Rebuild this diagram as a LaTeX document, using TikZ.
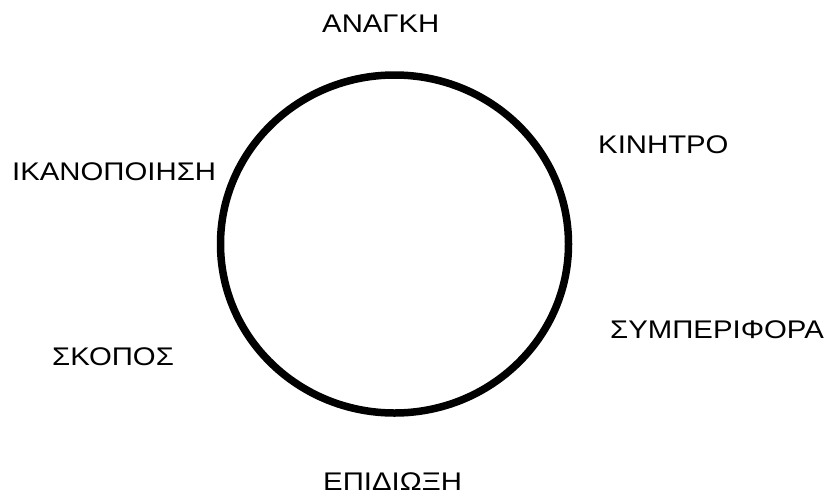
\documentclass[tikz,border=0pt]{standalone}
\usepackage{fontspec}
\setmainfont{Liberation Sans}[FakeStretch=1.15]
\begin{document}
\begin{tikzpicture}[x=1pt,y=-1pt,
  lbl/.style={inner sep=0pt,anchor=base west,font=\fontsize{25.5}{30}\selectfont},
  ring/.style={draw=black,line width=7.5pt}]
\useasboundingbox (0,0) rectangle (837,496);
\draw[ring] (394.5,244) ellipse [x radius=174, y radius=169];
\node[lbl] (anagki) at (322,32) {ΑΝΑΓΚΗ};
\node[lbl] (kinitro) at (598,153) {ΚΙΝΗΤΡΟ};
\node[lbl] (ikanopoiisi) at (12,180) {ΙΚΑΝΟΠΟΙΗΣΗ};
\node[lbl] (symperifora) at (610,338) {ΣΥΜΠΕΡΙΦΟΡΑ};
\node[lbl] (skopos) at (52,365) {ΣΚΟΠΟΣ};
\node[lbl] (epidioxi) at (323,490) {ΕΠΙΔΙΩΞΗ};
\end{tikzpicture}
\end{document}
